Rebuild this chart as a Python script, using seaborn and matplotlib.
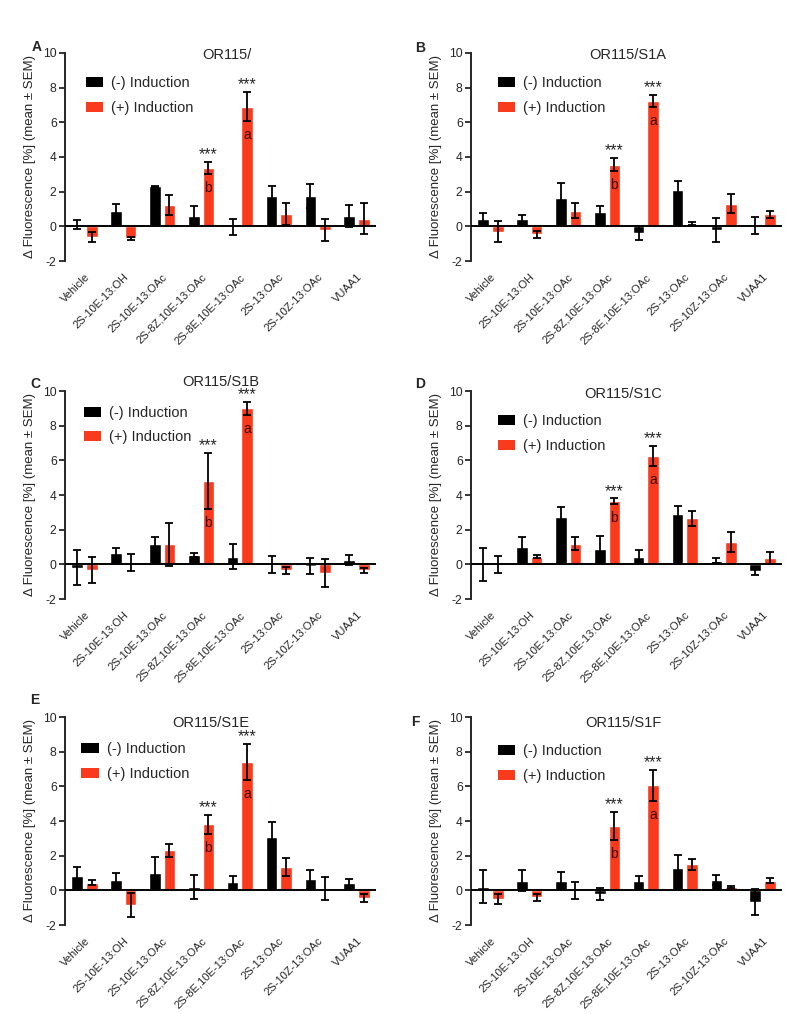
import numpy as np
import pandas as pd
import matplotlib
matplotlib.use("Agg")
import matplotlib.pyplot as plt
import seaborn as sns
from matplotlib.patches import Patch

categories = ["Vehicle", "2S-10E-13:OH", "2S-10E-13:OAc", "2S-8Z,10E-13:OAc",
              "2S-8E,10E-13:OAc", "2S-13:OAc", "2S-10Z-13:OAc", "VUAA1"]
groups = ["(-) Induction", "(+) Induction"]
titles = ["OR115/", "OR115/S1A", "OR115/S1B", "OR115/S1C", "OR115/S1E", "OR115/S1F"]
panel_letters = ["A", "B", "C", "D", "E", "F"]
yticks = [-2, 0, 2, 4, 6, 8, 10]

# (-) induction means / SEM, (+) induction means / SEM, per panel
a_neg = [0.1, 0.9, 2.3, 0.6, -0.05, 1.75, 1.75, 0.6]
a_neg_err = [0.28, 0.4, 0.05, 0.6, 0.45, 0.55, 0.7, 0.65]
a_pos = [-0.6, -0.7, 1.25, 3.35, 6.9, 0.7, -0.2, 0.45]
a_pos_err = [0.3, 0.1, 0.58, 0.35, 0.85, 0.65, 0.63, 0.88]

b_neg = [0.45, 0.45, 1.65, 0.8, -0.4, 2.1, -0.2, 0.05]
b_neg_err = [0.3, 0.2, 0.85, 0.4, 0.4, 0.52, 0.7, 0.48]
b_pos = [-0.3, -0.45, 0.9, 3.55, 7.25, 0.15, 1.3, 0.7]
b_pos_err = [0.6, 0.2, 0.42, 0.38, 0.35, 0.1, 0.55, 0.2]

c_neg = [-0.2, 0.65, 1.15, 0.55, 0.45, 0.0, -0.1, 0.25]
c_neg_err = [1.0, 0.28, 0.45, 0.1, 0.7, 0.5, 0.47, 0.3]
c_pos = [-0.3, 0.1, 1.15, 4.8, 9.0, -0.35, -0.5, -0.35]
c_pos_err = [0.75, 0.48, 1.25, 1.6, 0.37, 0.2, 0.83, 0.15]

d_neg = [0.0, 1.0, 2.75, 0.9, 0.45, 2.9, 0.2, -0.4]
d_neg_err = [0.95, 0.57, 0.55, 0.75, 0.4, 0.45, 0.15, 0.2]
d_pos = [0.0, 0.45, 1.2, 3.65, 6.25, 2.65, 1.3, 0.35]
d_pos_err = [0.5, 0.1, 0.4, 0.15, 0.6, 0.45, 0.58, 0.35]

e_neg = [0.85, 0.6, 1.0, 0.2, 0.5, 3.1, 0.65, 0.45]
e_neg_err = [0.5, 0.42, 0.9, 0.7, 0.35, 0.85, 0.55, 0.2]
e_pos = [0.45, -0.85, 2.3, 3.8, 7.4, 1.35, 0.1, -0.45]
e_pos_err = [0.15, 0.7, 0.35, 0.55, 1.05, 0.5, 0.65, 0.25]

f_neg = [0.2, 0.55, 0.55, -0.2, 0.55, 1.3, 0.6, -0.65]
f_neg_err = [0.95, 0.6, 0.5, 0.35, 0.3, 0.72, 0.3, 0.75]
f_pos = [-0.5, -0.4, 0.0, 3.7, 6.05, 1.5, 0.2, 0.55]
f_pos_err = [0.3, 0.2, 0.48, 0.8, 0.9, 0.3, 0.05, 0.15]

star_idx = [3, 4]
sig_letters = {3: "b", 4: "a"}

panels = [
    (a_neg, a_neg_err, a_pos, a_pos_err),
    (b_neg, b_neg_err, b_pos, b_pos_err),
    (c_neg, c_neg_err, c_pos, c_pos_err),
    (d_neg, d_neg_err, d_pos, d_pos_err),
    (e_neg, e_neg_err, e_pos, e_pos_err),
    (f_neg, f_neg_err, f_pos, f_pos_err),
]

BLACK = "#000000"
RED = "#F93A1C"
palette = {groups[0]: BLACK, groups[1]: RED}

sns.set_style("ticks")
plt.rcParams["font.family"] = ["Liberation Sans", "DejaVu Sans"]

W, H = 787, 1014
fig = plt.figure(figsize=(W / 100, H / 100), dpi=100)

# axes rectangles in pixels: left, top(y=10), right, bottom(y=-2)
ax_px = [(65, 53, 376, 261), (471, 53, 782, 261),
         (65, 391, 376, 599), (471, 391, 782, 599),
         (65, 717, 376, 925), (471, 717, 782, 925)]
title_pos = [(0.52, 0.99), (0.505, 0.99), (0.50, 1.043), (0.49, 0.986), (0.47, 0.971), (0.49, 0.971)]
letter_pos = [(37, 47), (420, 48), (35, 384), (420, 384), (35, 700), (415, 722)]
legend_pos = [(0.066, 0.888), (0.086, 0.888), (0.06, 0.928), (0.086, 0.888), (0.053, 0.878), (0.086, 0.868)]

for k, (neg, neg_err, pos, pos_err) in enumerate(panels):
    l, t, r, b = ax_px[k]
    ax = fig.add_axes([l / W, 1 - b / H, (r - l) / W, (b - t) / H])
    df = pd.DataFrame({
        "compound": categories * 2,
        "group": [groups[0]] * len(categories) + [groups[1]] * len(categories),
        "value": list(neg) + list(pos),
    })
    sns.barplot(data=df, x="compound", y="value", hue="group", order=categories,
                hue_order=groups, palette=palette, errorbar=None, width=0.75,
                gap=0.2, saturation=1, legend=False, ax=ax, zorder=2)
    # error bars at bar centres
    errs = {0: neg_err, 1: pos_err}
    vals = {0: neg, 1: pos}
    for p in ax.patches:
        cx = p.get_x() + p.get_width() / 2
        i = int(round(cx))
        side = 0 if cx < i else 1
        ax.errorbar(cx, vals[side][i], yerr=errs[side][i], fmt="none",
                    ecolor="black", elinewidth=1.3, capsize=3.2, capthick=1.3, zorder=3)
        if side == 1 and i in star_idx:
            top = vals[side][i] + errs[side][i]
            ax.text(cx, top + 0.42, "***", ha="center", va="center", fontsize=11.5, zorder=4)
            bot = vals[side][i] - errs[side][i]
            ax.text(cx, bot - 0.8, sig_letters[i], ha="center", va="center",
                    fontsize=10, color="#3a0a00", zorder=4)

    ax.axhline(0, color="black", lw=1.4, zorder=4)
    ax.set_xlim(-0.5, len(categories) - 0.5)
    ax.set_ylim(-2, 10)
    ax.set_yticks(yticks)
    ax.set_yticklabels([str(v) for v in yticks], fontsize=8.7)
    ax.set_xticks(range(len(categories)))
    ax.set_xticklabels(categories, rotation=45, ha="right", rotation_mode="anchor", fontsize=8)
    ax.tick_params(axis="x", length=0, pad=8)
    ax.tick_params(axis="y", length=4, width=1.3, pad=2)
    for s in ["top", "right", "bottom"]:
        ax.spines[s].set_visible(False)
    ax.spines["left"].set_linewidth(1.4)
    ax.set_xlabel("")
    ax.set_ylabel("\u0394 Fluorescence [%] (mean \u00b1 SEM)", fontsize=9.5, labelpad=5)
    ax.text(title_pos[k][0], title_pos[k][1], titles[k], transform=ax.transAxes,
            ha="center", va="center", fontsize=10.5)
    handles = [Patch(facecolor=BLACK, edgecolor="none", label=groups[0]),
               Patch(facecolor=RED, edgecolor="none", label=groups[1])]
    ax.legend(handles=handles, loc="upper left", bbox_to_anchor=legend_pos[k],
              frameon=False, fontsize=10.5, borderpad=0, borderaxespad=0,
              handlelength=1.2, handleheight=0.65, handletextpad=0.55, labelspacing=0.72)
    fig.text(letter_pos[k][0] / W, 1 - letter_pos[k][1] / H, panel_letters[k],
             ha="center", va="center", fontsize=10, fontweight="bold")

fig.savefig("out.png", dpi=100)
